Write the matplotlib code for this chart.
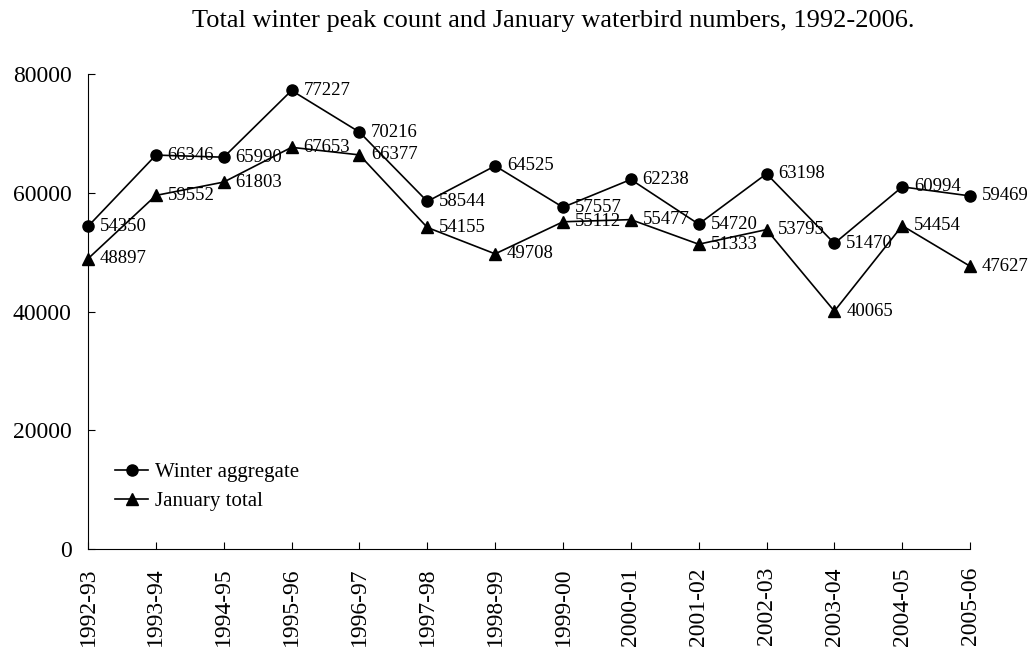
import matplotlib
matplotlib.use("Agg")
import matplotlib.pyplot as plt

plt.rcParams['font.family'] = ['Liberation Serif', 'DejaVu Serif']

seasons = ['1992-93', '1993-94', '1994-95', '1995-96', '1996-97', '1997-98', '1998-99',
           '1999-00', '2000-01', '2001-02', '2002-03', '2003-04', '2004-05', '2005-06']
winter_aggregate = [54350, 66346, 65990, 77227, 70216, 58544, 64525,
                    57557, 62238, 54720, 63198, 51470, 60994, 59469]
january_total = [48897, 59552, 61803, 67653, 66377, 54155, 49708,
                 55112, 55477, 51333, 53795, 40065, 54454, 47627]

fig = plt.figure(figsize=(10.31, 6.51), dpi=100)
ax = fig.add_axes([0.0854, 0.1567, 0.8555, 0.7296])

x = list(range(len(seasons)))
ax.plot(x, winter_aggregate, color='black', lw=1.2, marker='o', ms=8, label='Winter aggregate',
        clip_on=False, zorder=3)
ax.plot(x, january_total, color='black', lw=1.2, marker='^', ms=8.5, label='January total',
        clip_on=False, zorder=3)

# data labels to the right of each point
for series in (winter_aggregate, january_total):
    for xi, v in zip(x, series):
        ax.annotate(str(v), (xi, v), xytext=(8.5, 0), textcoords='offset points',
                    va='center', ha='left', fontsize=13.5, annotation_clip=False)

ax.set_xlim(0, len(seasons) - 1)
ax.set_ylim(0, 80000)
ax.set_yticks([0, 20000, 40000, 60000, 80000])
ax.set_xticks(x)
ax.set_xticklabels(seasons, rotation=90, fontsize=17)
ax.tick_params(axis='y', labelsize=17, direction='in', length=5, pad=12)
ax.tick_params(axis='x', direction='in', length=5, pad=13)
for s in ['top', 'right']:
    ax.spines[s].set_visible(False)

ax.legend(loc='center left', bbox_to_anchor=(0.0306, 0.1305), frameon=False, fontsize=15,
          handlelength=1.6, handletextpad=0.3, labelspacing=0.45,
          borderpad=0, borderaxespad=0)

fig.text(0.537, 0.9585, 'Total winter peak count and January waterbird numbers, 1992-2006.',
         ha='center', va='baseline', fontsize=19)

fig.savefig('out.png', dpi=100)
